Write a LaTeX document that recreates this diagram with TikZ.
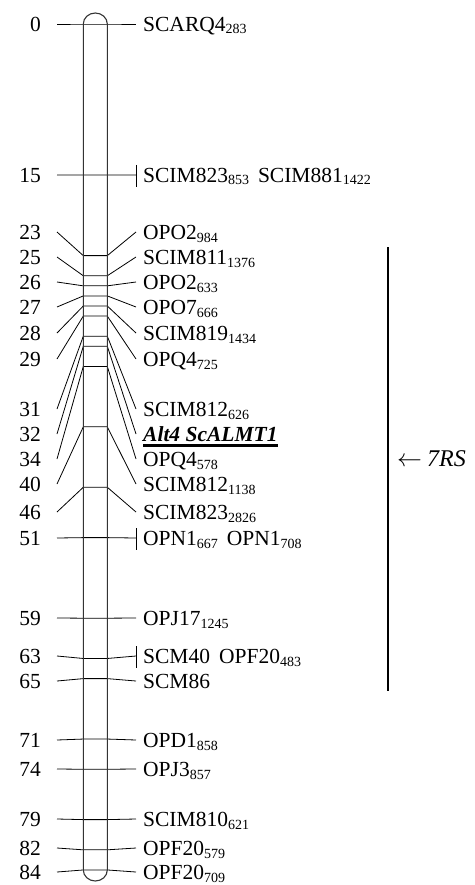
\documentclass[tikz,border=0pt]{standalone}
\usepackage{fontspec}
\setmainfont{Liberation Serif}
\newcommand\subs[1]{\raisebox{-2.5pt}{\fontsize{14}{14}\selectfont #1}}
\newcommand\gapx{\hspace{9pt}}
\begin{document}
\begin{tikzpicture}[x=1pt,y=-1pt,
  conn/.style={line width=0.8pt},
  barline/.style={line width=1.1pt,draw=black!80},
  numtxt/.style={anchor=base east,inner sep=0pt,font=\fontsize{21.5}{21.5}\selectfont},
  mtxt/.style={anchor=base west,inner sep=0pt,font=\fontsize{21.5}{21.5}\selectfont}]
\useasboundingbox (0,0) rectangle (474,885);
\foreach \c/\ly/\t/\k [count=\i] in {
  0/24/{SCARQ4\subs{283}}/0,
  15/175/{SCIM823\subs{853}\gapx SCIM881\subs{1422}}/1,
  23/232/{OPO2\subs{984}}/0,
  25/257/{SCIM811\subs{1376}}/0,
  26/282/{OPO2\subs{633}}/0,
  27/307/{OPO7\subs{666}}/0,
  28/333/{SCIM819\subs{1434}}/0,
  29/359/{OPQ4\subs{725}}/0,
  31/409/{SCIM812\subs{626}}/0,
  32/434/{\bfseries\itshape Alt4 ScALMT1}/0,
  34/459/{OPQ4\subs{578}}/0,
  40/484/{SCIM812\subs{1138}}/0,
  46/512/{SCIM823\subs{2826}}/0,
  51/538/{OPN1\subs{667}\gapx OPN1\subs{708}}/1,
  59/618/{OPJ17\subs{1245}}/0,
  63/656/{SCM40\gapx OPF20\subs{483}}/1,
  65/681/{SCM86}/0,
  71/740/{OPD1\subs{858}}/0,
  74/769/{OPJ3\subs{857}}/0,
  79/819/{SCIM810\subs{621}}/0,
  82/848/{OPF20\subs{579}}/0,
  84/872/{OPF20\subs{709}}/0} {
  \pgfmathsetmacro\by{24+\c*10.071}
  \node[numtxt] (num\i) at (41,\ly+7.5) {\c};
  \node[mtxt] (mk\i) at (143,\ly+7.5) {\t};
  \coordinate (la\i) at (57,\ly);
  \coordinate (ba\i) at (83.3,\by);
  \coordinate (bb\i) at (107.3,\by);
  \coordinate (lb\i) at (136,\ly);
  \draw[conn] (la\i) -- (ba\i) -- (bb\i) -- (lb\i);
  \ifnum\k=1 \draw[conn] ([yshift=10pt]lb\i) -- ([yshift=-12pt]lb\i); \fi
}
\draw[line width=2.5pt] ([yshift=-4pt]mk10.base west) -- ([yshift=-4pt]mk10.base east);
\draw[barline] (83.3,24) arc[start angle=180,end angle=0,x radius=12pt,y radius=11pt]
  -- (107.3,870) arc[start angle=0,end angle=-180,x radius=12pt,y radius=11pt] -- cycle;
\coordinate (rt) at (388,247);
\coordinate (rb) at (388,691);
\draw[line width=1.2pt] (rt) -- (rb);
\node[anchor=base west,inner sep=0pt,font=\fontsize{24}{24}\selectfont] (rs) at (397,466) {$\leftarrow$\hspace{5pt}\textit{7RS}};
\end{tikzpicture}
\end{document}
